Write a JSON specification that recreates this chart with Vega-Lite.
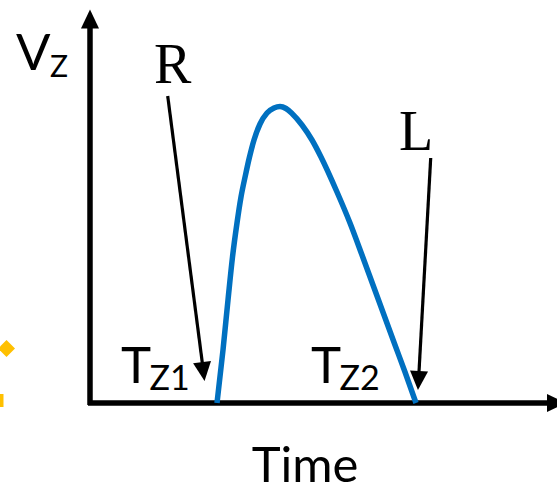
{
  "$schema": "https://vega.github.io/schema/vega-lite/v6.json",
  "description": "Schematic of vertical velocity Vz over time, with zero crossings Tz1 and Tz2 marked R and L.",
  "autosize": {"type": "none"},
  "width": 557,
  "height": 486,
  "padding": 0,
  "background": "white",
  "config": {"view": {"stroke": null}},
  "datasets": {
    "axes": [
      {"axis": "Vz", "x": 90, "y": 405, "x2": 90, "y2": 26},
      {"axis": "Time", "x": 88, "y": 403, "x2": 549, "y2": 403}
    ],
    "pointers": [
      {"name": "R", "x": 167.7, "y": 96, "x2": 203.5, "y2": 372},
      {"name": "L", "x": 430.7, "y": 158, "x2": 418.5, "y2": 381}
    ],
    "heads": [
      {"name": "Vz", "x": 90, "y": 19, "dir": 0},
      {"name": "Time", "x": 556.5, "y": 403, "dir": 90},
      {"name": "R", "x": 203.3, "y": 371.6, "dir": 172.5},
      {"name": "L", "x": 418.5, "y": 380.5, "dir": 183.2}
    ],
    "vz": [
      {"x": 217, "y": 403},
      {"x": 223, "y": 350},
      {"x": 228, "y": 300},
      {"x": 232.5, "y": 257},
      {"x": 237, "y": 223},
      {"x": 241, "y": 197},
      {"x": 245.5, "y": 175},
      {"x": 249.5, "y": 157},
      {"x": 254, "y": 140},
      {"x": 260, "y": 124},
      {"x": 267, "y": 113},
      {"x": 274, "y": 108},
      {"x": 280, "y": 106.5},
      {"x": 286, "y": 108.5},
      {"x": 292, "y": 113.5},
      {"x": 302, "y": 125},
      {"x": 312, "y": 140},
      {"x": 321, "y": 157},
      {"x": 337, "y": 192},
      {"x": 350, "y": 223},
      {"x": 362, "y": 255},
      {"x": 373, "y": 285},
      {"x": 384, "y": 315},
      {"x": 395, "y": 345},
      {"x": 405, "y": 372},
      {"x": 416, "y": 403}
    ]
  },
  "encoding": {
    "x": {"type": "quantitative", "scale": {"domain": [0, 557], "nice": false, "zero": false}, "axis": null},
    "y": {"type": "quantitative", "scale": {"domain": [0, 486], "nice": false, "zero": false, "reverse": true}, "axis": null}
  },
  "layer": [
    {
      "data": {"values": [{"x": 6.5, "y": 348.5}]},
      "mark": {"type": "point", "shape": "diamond", "filled": true, "size": 289, "color": "#FFC000", "opacity": 1},
      "encoding": {"x": {"field": "x"}, "y": {"field": "y"}}
    },
    {
      "data": {"values": [{"x": 0, "x2": 3.5, "y": 394, "y2": 407}]},
      "mark": {"type": "rect", "color": "#FFC000"},
      "encoding": {"x": {"field": "x"}, "x2": {"field": "x2"}, "y": {"field": "y"}, "y2": {"field": "y2"}}
    },
    {
      "data": {"name": "axes"},
      "mark": {"type": "rule", "color": "black", "strokeWidth": 5.5},
      "encoding": {"x": {"field": "x"}, "x2": {"field": "x2"}, "y": {"field": "y"}, "y2": {"field": "y2"}}
    },
    {
      "data": {"name": "pointers"},
      "mark": {"type": "rule", "color": "black", "strokeWidth": 3.2},
      "encoding": {"x": {"field": "x"}, "x2": {"field": "x2"}, "y": {"field": "y"}, "y2": {"field": "y2"}}
    },
    {
      "data": {"name": "vz"},
      "mark": {"type": "line", "color": "#0070C0", "strokeWidth": 5.5, "interpolate": "monotone", "strokeCap": "butt"},
      "encoding": {"x": {"field": "x"}, "y": {"field": "y"}}
    },
    {
      "data": {"name": "heads"},
      "mark": {"type": "point", "shape": "M0,-1L0.95,1L-0.95,1Z", "filled": true, "size": 361, "color": "black", "opacity": 1, "strokeWidth": 0},
      "encoding": {
        "x": {"field": "x"},
        "y": {"field": "y"},
        "angle": {"field": "dir", "type": "quantitative", "scale": null}
      }
    },
    {
      "data": {"values": [
        {"text": "V", "x": 16, "y": 70},
        {"text": "T", "x": 121, "y": 383},
        {"text": "T", "x": 311, "y": 383}
      ]},
      "mark": {"type": "text", "font": "Lato", "fontSize": 51, "align": "left", "baseline": "alphabetic", "color": "black"},
      "encoding": {"x": {"field": "x"}, "y": {"field": "y"}, "text": {"field": "text"}}
    },
    {
      "data": {"values": [{"text": "Time", "x": 305, "y": 482}]},
      "mark": {"type": "text", "font": "Lato", "fontSize": 49, "align": "center", "baseline": "alphabetic", "color": "black"},
      "encoding": {"x": {"field": "x"}, "y": {"field": "y"}, "text": {"field": "text"}}
    },
    {
      "data": {"values": [{"text": "Z", "x": 50, "y": 77}]},
      "mark": {"type": "text", "font": "Lato", "fontSize": 30, "align": "left", "baseline": "alphabetic", "color": "black"},
      "encoding": {"x": {"field": "x"}, "y": {"field": "y"}, "text": {"field": "text"}}
    },
    {
      "data": {"values": [
        {"text": "Z1", "x": 149.5, "y": 390},
        {"text": "Z2", "x": 339.5, "y": 390}
      ]},
      "mark": {"type": "text", "font": "Lato", "fontSize": 34, "align": "left", "baseline": "alphabetic", "color": "black"},
      "encoding": {"x": {"field": "x"}, "y": {"field": "y"}, "text": {"field": "text"}}
    },
    {
      "data": {"values": [
        {"text": "R", "x": 154, "y": 83},
        {"text": "L", "x": 399, "y": 150}
      ]},
      "mark": {"type": "text", "font": "Liberation Serif", "fontSize": 56, "align": "left", "baseline": "alphabetic", "color": "black"},
      "encoding": {"x": {"field": "x"}, "y": {"field": "y"}, "text": {"field": "text"}}
    }
  ]
}
